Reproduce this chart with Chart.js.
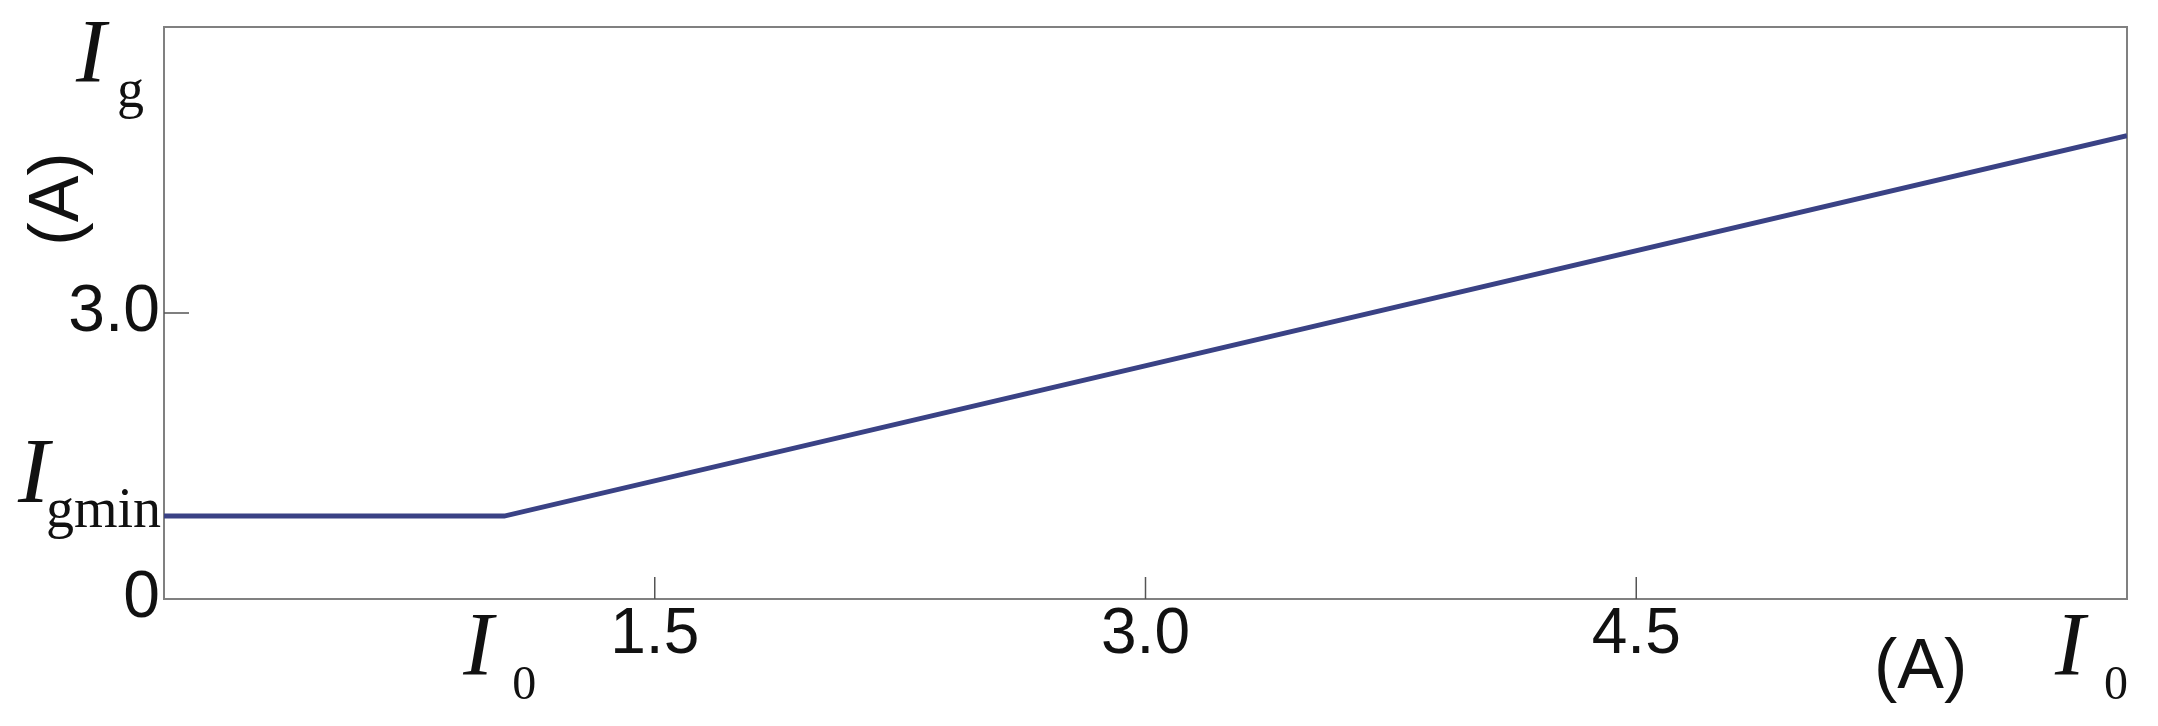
<!DOCTYPE html>
<html>
<head>
<meta charset="utf-8">
<script src="https://cdn.jsdelivr.net/npm/chart.js@4.4.1/dist/chart.umd.min.js"></script>
<style>
  html, body { margin: 0; padding: 0; background: #ffffff; }
  canvas { display: block; }
</style>
</head>
<body>
<canvas id="c" width="2158" height="726"></canvas>
<script>
// ---- data ----
const seriesX = [0, 1.04, 6.0];          // I0 (A)
const seriesY = [0.87, 0.87, 4.86];      // Ig (A)
const xTicks = [1.5, 3.0, 4.5];
const yTicks = [0, 3.0];
const yInnerTicks = [3.0];
const I0_VALUE = 1.04;
const IGMIN_VALUE = 0.87;
const X_MIN = 0, X_MAX = 6, Y_MIN = 0, Y_MAX = 6;

const LINE_COLOR = '#3a4285';
const FRAME_COLOR = '#808080';
const SANS = '"Liberation Sans", Arial, sans-serif';
const SERIF = '"Liberation Serif", "Times New Roman", serif';

function txt(ctx, s, x, y, font, align, baseline) {
  ctx.font = font;
  ctx.textAlign = align || 'left';
  ctx.textBaseline = baseline || 'alphabetic';
  ctx.fillText(s, x, y);
}

const framePlugin = {
  id: 'frame',
  beforeDatasetsDraw(chart) {
    const { ctx, chartArea: a, scales: { x, y } } = chart;
    ctx.save();
    ctx.strokeStyle = FRAME_COLOR;
    ctx.lineWidth = 2;
    ctx.strokeRect(a.left, a.top, a.right - a.left, a.bottom - a.top);
    // inner tick marks
    ctx.strokeStyle = '#555555';
    ctx.lineWidth = 1.5;
    xTicks.forEach(v => {
      const px = x.getPixelForValue(v);
      ctx.beginPath(); ctx.moveTo(px, a.bottom); ctx.lineTo(px, a.bottom - 22); ctx.stroke();
    });
    yInnerTicks.forEach(v => {
      const py = y.getPixelForValue(v);
      ctx.beginPath(); ctx.moveTo(a.left, py); ctx.lineTo(a.left + 25, py); ctx.stroke();
    });
    ctx.restore();
  },
  afterDraw(chart) {
    const { ctx, chartArea: a, scales: { x, y } } = chart;
    ctx.save();
    ctx.fillStyle = '#111111';
    // y-axis title: I_g and (A)
    txt(ctx, 'I', 76, 82, 'italic 90px ' + SERIF);
    txt(ctx, 'g', 117, 107, '54px ' + SERIF);
    ctx.save();
    ctx.translate(78, 199);
    ctx.rotate(-Math.PI / 2);
    txt(ctx, '(A)', 0, 0, '70px ' + SANS, 'center', 'alphabetic');
    ctx.restore();
    // I_gmin at its level
    const pyMin = y.getPixelForValue(IGMIN_VALUE);
    txt(ctx, 'I', 18, pyMin - 14, 'italic 94px ' + SERIF);
    txt(ctx, 'gmin', 46, pyMin + 11, '56px ' + SERIF);
    // I_0 at the knee
    const pxI0 = x.getPixelForValue(I0_VALUE);
    txt(ctx, 'I', pxI0 - 41, a.bottom + 76, 'italic 90px ' + SERIF);
    txt(ctx, '0', pxI0 + 8, a.bottom + 100, '48px ' + SERIF);
    // x-axis title: (A) I_0
    txt(ctx, '(A)', 1874, 688, '70px ' + SANS);
    txt(ctx, 'I', a.right - 72, a.bottom + 76, 'italic 90px ' + SERIF);
    txt(ctx, '0', a.right - 23, a.bottom + 100, '48px ' + SERIF);
    ctx.restore();
  }
};

new Chart(document.getElementById('c'), {
  type: 'line',
  data: {
    datasets: [{
      data: seriesX.map((v, i) => ({ x: v, y: seriesY[i] })),
      borderColor: LINE_COLOR,
      borderWidth: 5,
      pointRadius: 0,
      tension: 0,
      fill: false
    }]
  },
  options: {
    responsive: false,
    animation: false,
    devicePixelRatio: 1,
    layout: { padding: { top: 27, right: 31, left: 0, bottom: 0 } },
    plugins: { legend: { display: false }, tooltip: { enabled: false } },
    scales: {
      x: {
        type: 'linear', min: X_MIN, max: X_MAX,
        grid: { display: false, drawTicks: false },
        border: { display: false },
        afterBuildTicks: s => { s.ticks = xTicks.map(v => ({ value: v })); },
        afterFit: s => { s.height = 127; s.paddingLeft = 0; s.paddingRight = 0; },
        ticks: {
          font: { family: SANS, size: 64, lineHeight: 1.15 },
          color: '#111111', padding: 0, maxRotation: 0, minRotation: 0, autoSkip: false,
          callback: v => Number(v).toFixed(1)
        }
      },
      y: {
        type: 'linear', min: Y_MIN, max: Y_MAX,
        grid: { display: false, drawTicks: false },
        border: { display: false },
        afterBuildTicks: s => { s.ticks = yTicks.map(v => ({ value: v })); },
        afterFit: s => { s.width = 164; s.paddingTop = 0; s.paddingBottom = 0; },
        ticks: {
          font: { family: SANS, size: 66 },
          color: '#111111', padding: 4, autoSkip: false,
          callback: v => (v === 0 ? '0' : Number(v).toFixed(1))
        }
      }
    }
  },
  plugins: [framePlugin]
});
</script>
</body>
</html>
